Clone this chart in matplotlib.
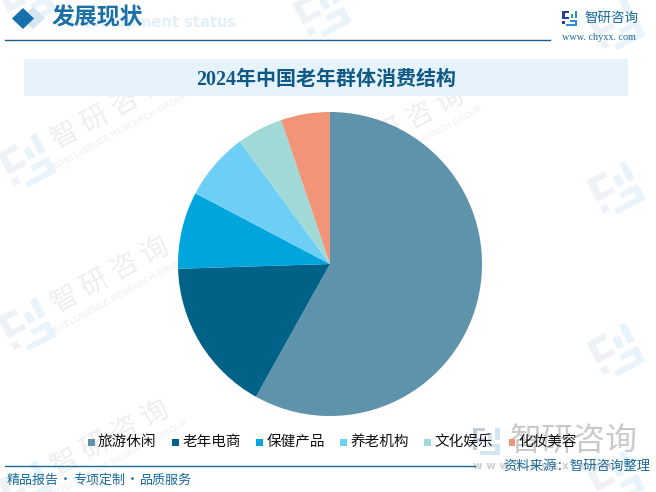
import matplotlib
matplotlib.use("Agg")
import matplotlib.pyplot as plt
from matplotlib.patches import Polygon, Rectangle
from matplotlib.transforms import Affine2D

categories = ["旅游休闲", "老年电商", "保健产品", "养老机构", "文化娱乐", "化妆美容"]
values = [58.1, 16.4, 8.2, 7.2, 4.9, 5.2]
colors = ["#5f93ab", "#006287", "#00a5de", "#6dcff6", "#a0d9d5", "#f19477"]
title = "2024年中国老年群体消费结构"
footer_parts = ["精品报告", "专项定制", "品质服务"]

W, H = 656, 492
CJK = ["Noto Sans CJK SC", "DejaVu Sans"]
SERIF = ["Liberation Serif", "Noto Sans CJK SC"]
plt.rcParams["font.family"] = CJK

fig = plt.figure(figsize=(W / 100, H / 100), dpi=100, facecolor="white")
bg = fig.add_axes([0, 0, 1, 1], zorder=0)
bg.set_xlim(0, W)
bg.set_ylim(H, 0)
bg.axis("off")


def logo(x, y, s, c1, c2, z=1, rot=0.0):
    """Angular brand mark centred on x,y with side s, optionally rotated."""
    u = s / 15
    ox, oy = -7.5, -7.5
    shapes = [
        ([(0, 0), (7, 0), (7, 2), (2.5, 2), (2.5, 6), (7, 6), (7, 8), (0, 8)], c1),
        ([(0, 10), (2.5, 10), (2.5, 12.5), (0, 12.5)], c1),
        ([(8, 9), (15, 9), (15, 15), (4, 15), (4, 13), (12.5, 13), (12.5, 11), (8, 11)], c2),
        ([(12.5, 0), (15, 0), (15, 7), (12.5, 7)], c2),
        ([(8.5, 3), (11, 3), (11, 7), (8.5, 7)], c2),
    ]
    tr = Affine2D().rotate_deg(rot).translate(x, y) + bg.transData
    for pts, col in shapes:
        scaled = [((px + ox) * u, (py + oy) * u) for px, py in pts]
        bg.add_patch(Polygon(scaled, fc=col, ec="none", zorder=z, transform=tr))


# watermark tiles
WM1, WM2, WMT = "#eef1f5", "#e9f4fa", "#eeeeee"
for lx, rows in [(27, (1, 163, 327, 490)), (322, (13, 176, 339)), (616, (26, 190, 352, 480))]:
    for ly in rows:
        logo(lx, ly, 44, WM1, WM2, rot=-28)
        if lx < 600 and ly > 60:
            bg.text(lx + 83, ly - 52, "智 研 咨 询", fontsize=20, color=WMT, rotation=28.5,
                    rotation_mode="anchor", ha="center", va="center", zorder=1)
            bg.text(lx + 93, ly - 32, "INTELLIGENCE RESEARCH GROUP", fontsize=6.5, color=WMT,
                    rotation=28.5, rotation_mode="anchor", ha="center", va="center",
                    family="Liberation Sans", zorder=1)

# header
bg.add_patch(Polygon([(33, 7), (45, 18), (33, 29), (21, 18)], fc="#d3e5f1", ec="none", zorder=2))
bg.add_patch(Polygon([(23, 8), (34, 18.5), (23, 29), (12, 18.5)], fc="#1670ab", ec="none", zorder=3))
bg.text(236, 23, "Development status", fontsize=10.5, fontweight="bold", color="#e3f0fa",
        ha="right", va="center", family="DejaVu Sans", zorder=2)
bg.text(52, 18, "发展现状", fontsize=16.5, fontweight="bold", color="#1a6fa5", ha="left", va="center", zorder=3)
bg.plot([5, 550], [39.5, 39.5], color="#1a5f8a", lw=1.0, zorder=3)

# top-right brand
logo(569.5, 18.5, 15, "#2a3f8f", "#2b8fd6", z=3)
bg.text(584, 18, "智研咨询", fontsize=9.7, color="#1a6a9a", ha="left", va="center", zorder=3)
bg.text(599, 38, "www. chyxx. com", fontsize=7.3, color="#1a6a9a", ha="center", va="center",
        family="Liberation Serif", zorder=3)

# title band
bg.add_patch(Rectangle((24, 59), 604, 37, fc="#e6f3fb", ec="none", zorder=2))
bg.text(326, 79.5, title, fontsize=14.45, fontweight="bold", color="#0f5a85", ha="center", va="center",
        family=SERIF, zorder=3)

# pie
cx, cy, r = 330, 264, 152
ax = fig.add_axes([(cx - r) / W, 1 - (cy + r) / H, 2 * r / W, 2 * r / H], zorder=2)
ax.pie(values, colors=colors, startangle=90, counterclock=False, radius=1,
       wedgeprops={"linewidth": 0, "clip_on": False})
ax.set_xlim(-1, 1)
ax.set_ylim(-1, 1)
ax.set_aspect("equal")

# bottom big faded brand
top = fig.add_axes([0, 0, 1, 1], zorder=3)
top.set_xlim(0, W)
top.set_ylim(H, 0)
top.axis("off")
top.patch.set_alpha(0)
bg.text(510, 441, "智研咨询", fontsize=23, color="#c9c9c9", ha="left", va="center", zorder=1.5)
logo(486, 441, 27, "#c5cbdd", "#d3e4f2", z=1.5)
bg.text(473, 466, "w w w . c h y x x . c o m", fontsize=7.5, color="#cfcfcf", ha="left", va="center",
        family="DejaVu Sans", fontweight="bold", zorder=1.5)

# legend
x0, step = 88, 84.1
for i, (name, col) in enumerate(zip(categories, colors)):
    x = x0 + i * step
    top.add_patch(Rectangle((x, 439), 6.5, 6.5, fc=col, ec="none"))
    top.text(x + 10, 442, name, fontsize=10.5, color="#111111", ha="left", va="center")

# footer
top.plot([5, 475], [465.5, 465.5], color="#1a6a96", lw=1.0)
for part, x in zip(footer_parts, (7, 73, 139.5)):
    top.text(x, 480, part, fontsize=9.4, color="#1a6a9a", ha="left", va="center")
for x in (65.5, 132):
    top.text(x, 480, "·", fontsize=9.4, color="#1a6a9a", ha="center", va="center")
top.text(650, 466, "资料来源：智研咨询整理", fontsize=9.6, color="#1a6a9a", ha="right", va="center")

fig.savefig("out.png", dpi=100)
